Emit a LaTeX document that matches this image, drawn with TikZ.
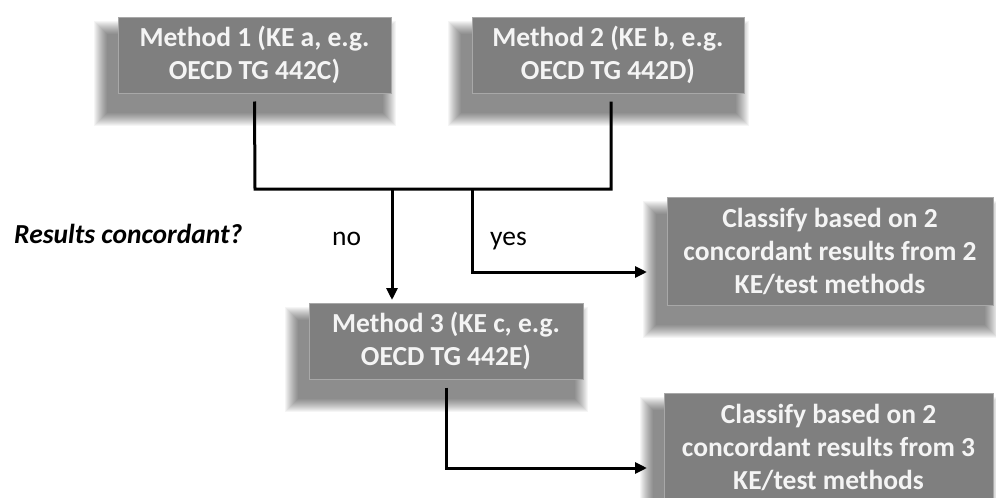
\documentclass[tikz,border=0pt]{standalone}
\usepackage{fontspec}
\setmainfont{Carlito}
\usetikzlibrary{arrows.meta,backgrounds}
\definecolor{boxgray}{HTML}{7F7F7F}
\definecolor{boxedge}{HTML}{A8A8A8}
\definecolor{boxtext}{HTML}{F4F4F4}
\tikzset{
  box/.style={rectangle, fill=boxgray, draw=boxedge, line width=1pt, text=boxtext,
    font=\bfseries\fontsize{27.5}{33}\selectfont, align=center, inner sep=0pt},
  conn/.style={line width=3pt, draw=black},
  arr/.style={conn, -{Triangle[length=12pt,width=11pt]}},
  lbl/.style={font=\fontsize{27.5}{33}\selectfont, anchor=base west, inner sep=0pt},
  shadowlayer/.style={fill=black, opacity=0.04}
}
\newcommand{\softshadow}[1]{%
  \foreach \i in {0,...,13}{%
    \fill[shadowlayer] ([shift={(-24+\i,32-\i)}]#1.south west) rectangle ([shift={(4-\i,4+\i)}]#1.north east);
  }%
}
\begin{document}
\begin{tikzpicture}[x=1pt,y=-1pt]
\useasboundingbox (0,0) rectangle (996,498);
\node[box, minimum width=273pt, minimum height=76pt] (m1) at (254.5,55) {Method 1 (KE a, e.g.\\OECD TG 442C)};
\node[box, minimum width=272pt, minimum height=76pt] (m2) at (608,55) {Method 2 (KE b, e.g.\\OECD TG 442D)};
\node[box, minimum width=326pt, minimum height=108pt] (c1) at (830,251) {Classify based on 2\\concordant results from 2\\KE/test methods};
\node[box, minimum width=274pt, minimum height=76pt] (m3) at (446,341) {Method 3 (KE c, e.g.\\OECD TG 442E)};
\node[box, minimum width=329pt, minimum height=108pt] (c2) at (828.5,447) {Classify based on 2\\concordant results from 3\\KE/test methods};

\begin{pgfonlayer}{background}
\fill[white] (0,0) rectangle (996,498);
\softshadow{m1}
\softshadow{m2}
\softshadow{c1}
\softshadow{m3}
\softshadow{c2}
\end{pgfonlayer}

\node[lbl, font=\bfseries\itshape\fontsize{27.5}{33}\selectfont] (q) at (14,243) {Results concordant?};
\node[lbl] (no) at (332,245) {no};
\node[lbl] (yes) at (490,245) {yes};

\coordinate (j1) at (255,189);
\coordinate (j2) at (611,189);
\coordinate (jn) at (392,189);
\coordinate (jy) at (472,189);
\coordinate (yc) at (472,272);
\coordinate (ye) at (647,272);
\coordinate (bc) at (446,468);
\coordinate (be) at (647,468);

\draw[conn] ([yshift=-8pt]m1.south) -- (j1) -- (j2) -- ([xshift=3pt,yshift=-8pt]m2.south);
\draw[arr] (jn) -- (jn |- 0,300);
\draw[arr] (jy) -- (yc) -- (ye);
\draw[arr] ([yshift=-8pt]m3.south) -- (bc) -- (be);
\end{tikzpicture}
\end{document}
